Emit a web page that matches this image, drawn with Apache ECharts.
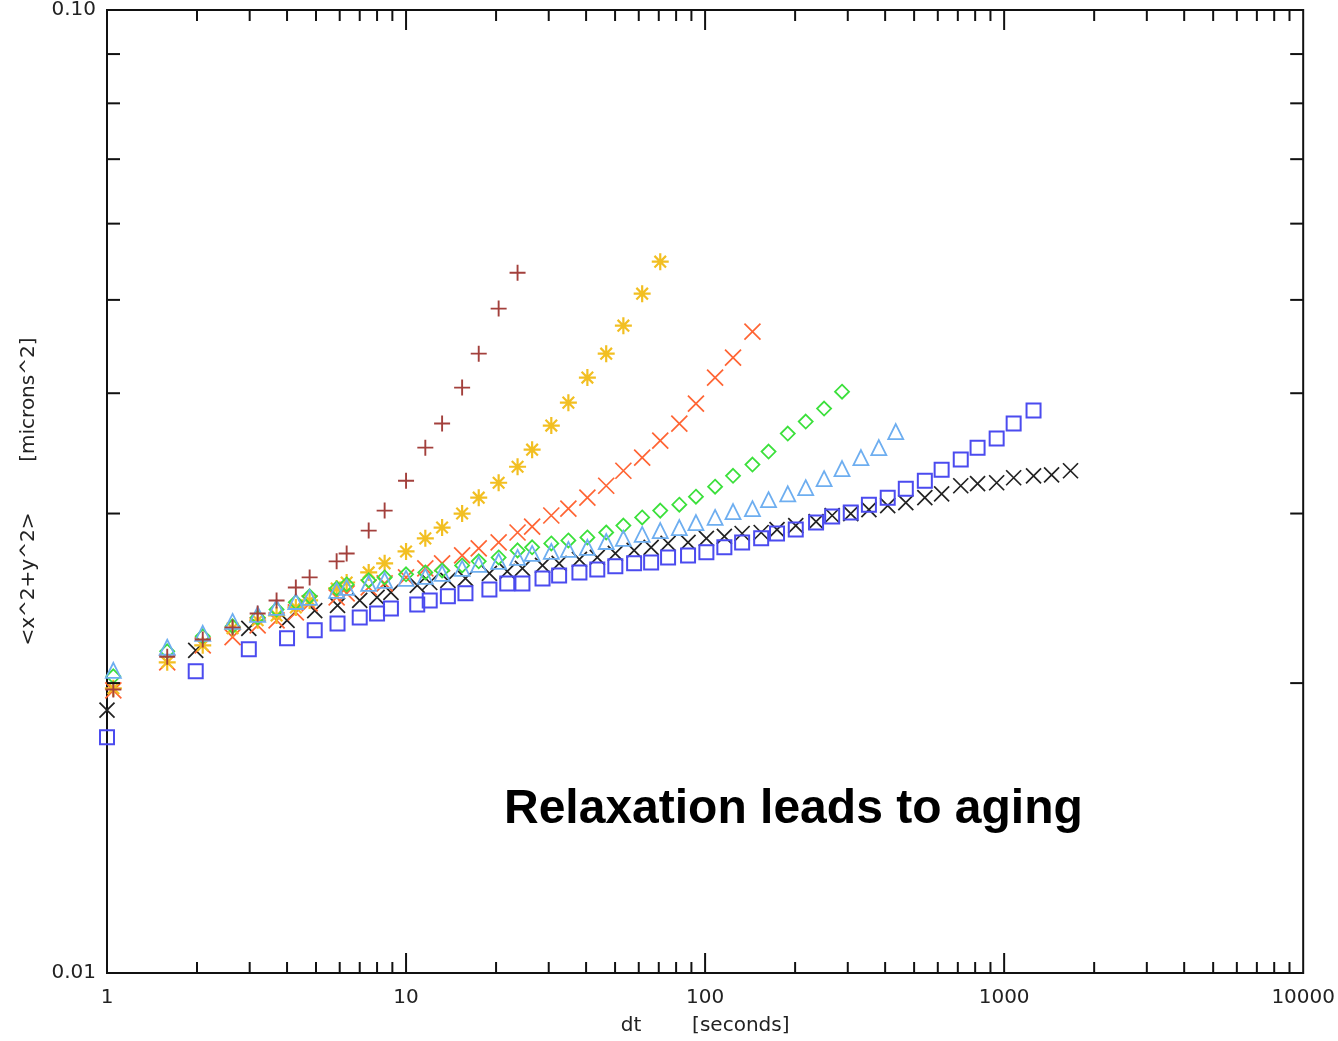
<!DOCTYPE html>
<html>
<head>
<meta charset="utf-8">
<script src="https://cdn.jsdelivr.net/npm/echarts@6/dist/echarts.min.js"></script>
<style>
html,body{margin:0;padding:0;background:#fff;}
#chart{width:1338px;height:1041px;}
</style>
</head>
<body>
<div id="chart"></div>
<script>
// ---- data ----
const timesA = [1.05,1.59,2.09,2.63,3.19,3.69,4.28,4.76,5.86,6.33,7.50,8.48,10.0,11.6,13.2,15.4,17.5,20.4,23.6,26.4,30.6,34.9,40.4,46.7,53.3,61.6,70.8,82.0,93.2,108,124,144,163,189,217,250,287,332,381,434];
const timesB = [1.0,1.98,2.98,4.0,4.95,5.9,7.0,8.0,8.9,10.9,12.0,13.8,15.8,19.0,21.8,24.5,28.6,32.5,38.0,43.6,50.1,57.9,66.0,75.2,87.7,101,116,133,154,174,201,235,266,307,353,408,469,543,618,716,815,944,1076,1254,1441,1667];

const brownPlus = [0.0197,0.0213,0.0222,0.02285,0.02362,0.02437,0.02514,0.02575,0.02676,0.02727,0.0288,0.03021,0.03245,0.03512,0.0372,0.04054,0.04397,0.04897,0.05336];
const yellowStar = [0.01975,0.02102,0.02189,0.0228,0.02324,0.02351,0.02397,0.02437,0.02508,0.02544,0.02606,0.02663,0.0274,0.02827,0.02901,0.03,0.03116,0.03229,0.03355,0.03495,0.03702,0.03911,0.04152,0.04397,0.04701,0.05075,0.05479];
const orangeCross = [0.01966,0.02102,0.02189,0.02232,0.02296,0.02324,0.02368,0.0242,0.02455,0.02479,0.02514,0.02538,0.02575,0.02631,0.02663,0.02714,0.0276,0.028,0.02867,0.02908,0.02986,0.03035,0.03116,0.03206,0.03323,0.03429,0.03572,0.0372,0.03902,0.04152,0.04355,0.04634];
const greenDiamond = [0.02033,0.02158,0.02237,0.02291,0.0234,0.02385,0.02426,0.02461,0.02508,0.02532,0.02557,0.02575,0.02594,0.02606,0.02618,0.0265,0.02676,0.02701,0.02747,0.02767,0.02793,0.02813,0.02833,0.02867,0.02915,0.02972,0.03021,0.03064,0.03123,0.03199,0.03283,0.03373,0.03479,0.03632,0.03738,0.03856,0.04015];
const blueTriangle = [0.02062,0.02179,0.02253,0.02318,0.02357,0.02397,0.02431,0.02455,0.02496,0.02514,0.02538,0.02557,0.02569,0.02581,0.026,0.02631,0.02657,0.02676,0.02701,0.02727,0.0274,0.02753,0.02767,0.02806,0.02827,0.02854,0.0288,0.02901,0.02936,0.02972,0.03014,0.03035,0.03101,0.03145,0.03191,0.03261,0.0334,0.03429,0.03512,0.03649];
const blueSquare = [0.01757,0.02057,0.02168,0.02226,0.02269,0.02307,0.0234,0.02362,0.02391,0.02414,0.02437,0.02461,0.02479,0.02502,0.02538,0.02538,0.02569,0.02587,0.02606,0.02625,0.02644,0.02663,0.02669,0.02701,0.02714,0.02734,0.02767,0.028,0.02827,0.0286,0.02887,0.02936,0.02979,0.03007,0.03064,0.03116,0.03183,0.03245,0.03331,0.03413,0.03512,0.03589,0.0372,0.03837];
const blackCross = [0.01875,0.02163,0.0228,0.02324,0.02379,0.02408,0.02437,0.02455,0.02485,0.02526,0.02544,0.02557,0.02569,0.026,0.02612,0.02631,0.0265,0.02663,0.02688,0.02701,0.02727,0.02747,0.02767,0.02793,0.028,0.02827,0.0284,0.0286,0.02867,0.02887,0.02915,0.02943,0.02986,0.03,0.03028,0.03057,0.03079,0.03116,0.03145,0.03206,0.03222,0.03229,0.03268,0.03283,0.03291,0.03323];

const xMajorTicks = [10, 100, 1000];
const xMinorTicks = [2,3,4,5,6,7,8,9,20,30,40,50,60,70,80,90,200,300,400,500,600,700,800,900,2000,3000,4000,5000,6000,7000,8000,9000];
const yMinorTicks = [0.02,0.03,0.04,0.05,0.06,0.07,0.08,0.09];

const X_MIN = 1, X_MAX = 10000, Y_MIN = 0.01, Y_MAX = 0.1;
const xTitle = 'dt        [seconds]';
const yTitle = '<x^2+y^2>        [microns^2]';
const caption = 'Relaxation leads to aging';

// ---- build ----
const pair = (times, vals) => vals.map((v, i) => [times[i], v]);
const SYM_PLUS = 'path://M0,5L10,5M5,0L5,10';
const SYM_CROSS = 'path://M0,0L10,10M0,10L10,0';
const SYM_STAR = 'path://M0,5L10,5M5,0L5,10M1.6,1.6L8.4,8.4M1.6,8.4L8.4,1.6';

function sc(name, data, symbol, size, color, lw) {
  return {
    name, type: 'scatter', data, symbol, symbolSize: size, clip: false,
    itemStyle: { color: 'rgba(0,0,0,0)', borderColor: color, borderWidth: lw, opacity: 1 },
    emphasis: { disabled: true }, silent: true, z: 3
  };
}

const xTickData = xMajorTicks.map(v => [v, Y_MIN, 20]).concat(xMinorTicks.map(v => [v, Y_MIN, 11]));
const yTickData = yMinorTicks.map(v => [X_MIN, v, 13]);

const chart = echarts.init(document.getElementById('chart'), null, { renderer: 'canvas' });
chart.setOption({
  animation: false,
  backgroundColor: '#fff',
  grid: { left: 107, right: 33, top: 9, bottom: 68, show: true, borderColor: '#111', borderWidth: 2, backgroundColor: 'transparent' },
  xAxis: {
    type: 'log', logBase: 10, min: X_MIN, max: X_MAX,
    axisLine: { show: false }, axisTick: { show: false }, splitLine: { show: false },
    axisLabel: { color: '#222', fontFamily: 'DejaVu Sans', fontSize: 20, margin: 15, formatter: v => String(Math.round(v)) },
    name: xTitle, nameLocation: 'middle', nameGap: 43,
    nameTextStyle: { color: '#222', fontFamily: 'DejaVu Sans', fontSize: 20 }
  },
  yAxis: {
    type: 'log', logBase: 10, min: Y_MIN, max: Y_MAX,
    axisLine: { show: false }, axisTick: { show: false }, splitLine: { show: false },
    axisLabel: { color: '#222', fontFamily: 'DejaVu Sans', fontSize: 20, margin: 11, formatter: v => v.toFixed(2),
      padding: [0, 0, 6, 0] },
    name: yTitle, nameLocation: 'middle', nameGap: 68, nameRotate: 90,
    nameTextStyle: { color: '#222', fontFamily: 'DejaVu Sans', fontSize: 20 }
  },
  graphic: [{
    type: 'text', left: 504, top: 786,
    style: { text: caption, font: 'bold 48px "Liberation Sans", Arial, sans-serif', fill: '#000' }
  }],
  series: [
    {
      type: 'custom', coordinateSystem: 'cartesian2d', data: xTickData, clip: false, silent: true, z: 5,
      renderItem: (params, api) => {
        const v = api.value(0), len = api.value(2);
        const b = api.coord([v, Y_MIN]), t = api.coord([v, Y_MAX]);
        const st = { stroke: '#111', lineWidth: 2 };
        return { type: 'group', children: [
          { type: 'line', shape: { x1: b[0], y1: b[1], x2: b[0], y2: b[1] - len }, style: st },
          { type: 'line', shape: { x1: t[0], y1: t[1], x2: t[0], y2: t[1] + len }, style: st }
        ]};
      }
    },
    {
      type: 'custom', coordinateSystem: 'cartesian2d', data: yTickData, clip: false, silent: true, z: 5,
      renderItem: (params, api) => {
        const v = api.value(1), len = api.value(2);
        const l = api.coord([X_MIN, v]), r = api.coord([X_MAX, v]);
        const st = { stroke: '#111', lineWidth: 2 };
        return { type: 'group', children: [
          { type: 'line', shape: { x1: l[0], y1: l[1], x2: l[0] + len, y2: l[1] }, style: st },
          { type: 'line', shape: { x1: r[0], y1: r[1], x2: r[0] - len, y2: r[1] }, style: st }
        ]};
      }
    },
    sc('blackCross', pair(timesB, blackCross), SYM_CROSS, 15, '#222222', 1.7),
    sc('blueSquare', pair(timesB, blueSquare), 'rect', 14, '#4b4bef', 2),
    sc('orangeCross', pair(timesA, orangeCross), SYM_CROSS, 16, '#ff6433', 1.7),
    sc('yellowStar', pair(timesA, yellowStar), SYM_STAR, 17, '#f2bf22', 2.2),
    sc('greenDiamond', pair(timesA, greenDiamond), 'diamond', 14, '#3be03b', 1.8),
    sc('blueTriangle', pair(timesA, blueTriangle), 'triangle', 15, '#6eaef0', 1.8),
    sc('brownPlus', pair(timesA, brownPlus), SYM_PLUS, 16, '#a3403c', 1.9)
  ]
});
</script>
</body>
</html>
